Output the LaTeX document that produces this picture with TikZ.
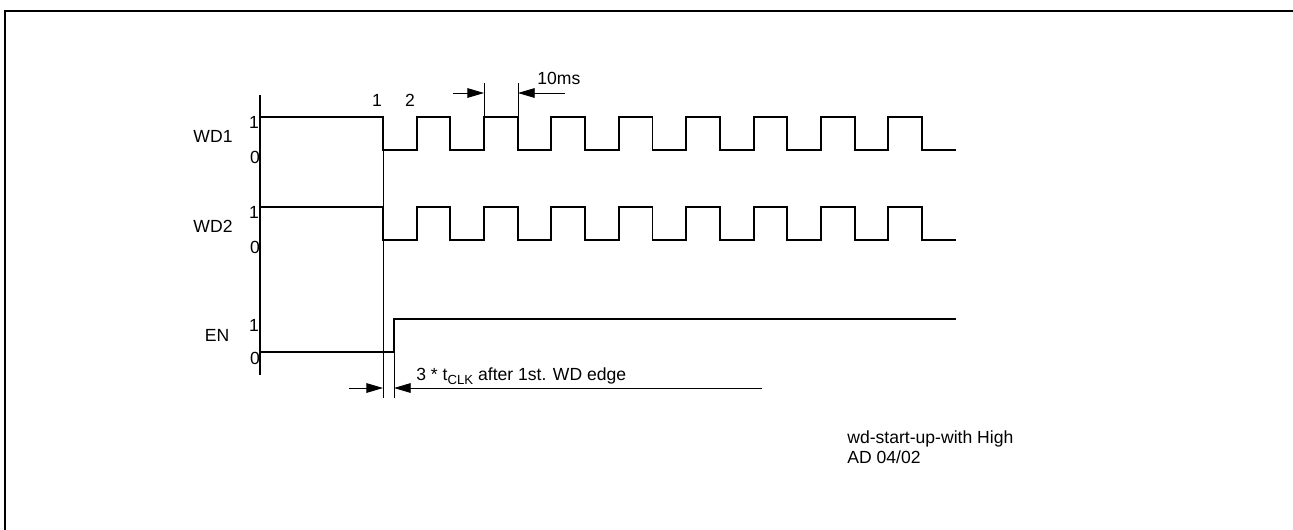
\documentclass[tikz,border=0pt]{standalone}
\usepackage{fontspec}
\setmainfont{Liberation Sans}
\usetikzlibrary{arrows.meta}

\tikzset{
  sig/.style={line width=1.1pt, line join=miter},
  thinline/.style={line width=0.5pt},
  dimarrow/.style={line width=0.5pt, -{Triangle[length=9.5pt,width=5.5pt]}},
  lbl/.style={inner sep=0pt, font=\fontsize{10}{12}\selectfont},
}
\newcommand{\clksub}[1]{\raisebox{-2.6pt}{\fontsize{7.5}{8}\selectfont #1}}

\begin{document}
\begin{tikzpicture}[x=0.02cm, y=-0.02cm]
  \useasboundingbox (0,0) rectangle (1293,529);

  % frame
  \draw[line width=1.3pt] (5,540) -- (5,11) -- (1310,11);

  % time axis
  \draw[sig] (260,95) -- (260,375);

  % WD1 and WD2
  \foreach \hi/\lo/\nm/\id in {117/150/WD1/wda, 207/240/WD2/wdb} {
    \draw[sig] (260,\hi) -- (383,\hi) -- (383,\lo)
      \foreach \i in {0,...,7} { -- ++(33.69,0) -- ++(0,-33) -- ++(33.69,0) -- ++(0,33) }
      -- ++(33.69,0);
    \node[lbl] (\id) at (213,\hi+19) {\nm};
    \node[lbl] (\id one) at (254,\hi+5) {1};
    \node[lbl] (\id zero) at (255,\lo+7) {0};
  }

  % EN
  \draw[sig] (260,352) -- (394,352) -- (394,319) -- (956,319);
  \node[lbl] (en) at (217,335) {EN};
  \node[lbl] (enone) at (254,325) {1};
  \node[lbl] (enzero) at (255,358) {0};

  % edge numbers
  \node[lbl] (first) at (377,100) {1};
  \node[lbl] (second) at (410,100) {2};

  % 10ms period
  \draw[thinline] (484,83) -- (484,117);
  \draw[thinline] (518,83) -- (518,117);
  \draw[dimarrow] (453,93) -- (484,93);
  \draw[dimarrow] (565,93) -- (518,93);
  \node[lbl, anchor=base west] (period) at (537,84) {10ms};

  % delay of EN
  \draw[thinline] (383,117) -- (383,398);
  \draw[thinline] (394,319) -- (394,398);
  \draw[dimarrow] (349,388) -- (383,388);
  \draw[dimarrow] (762,388) -- (394,388);
  \node[lbl, anchor=base west] (delay) at (416,380)
    {3 * t\clksub{CLK} after 1st. WD edge};

  % footer
  \node[lbl, anchor=base west] (title) at (847,443) {wd-start-up-with High};
  \node[lbl, anchor=base west] (date) at (847,463) {AD 04/02};
\end{tikzpicture}
\end{document}
